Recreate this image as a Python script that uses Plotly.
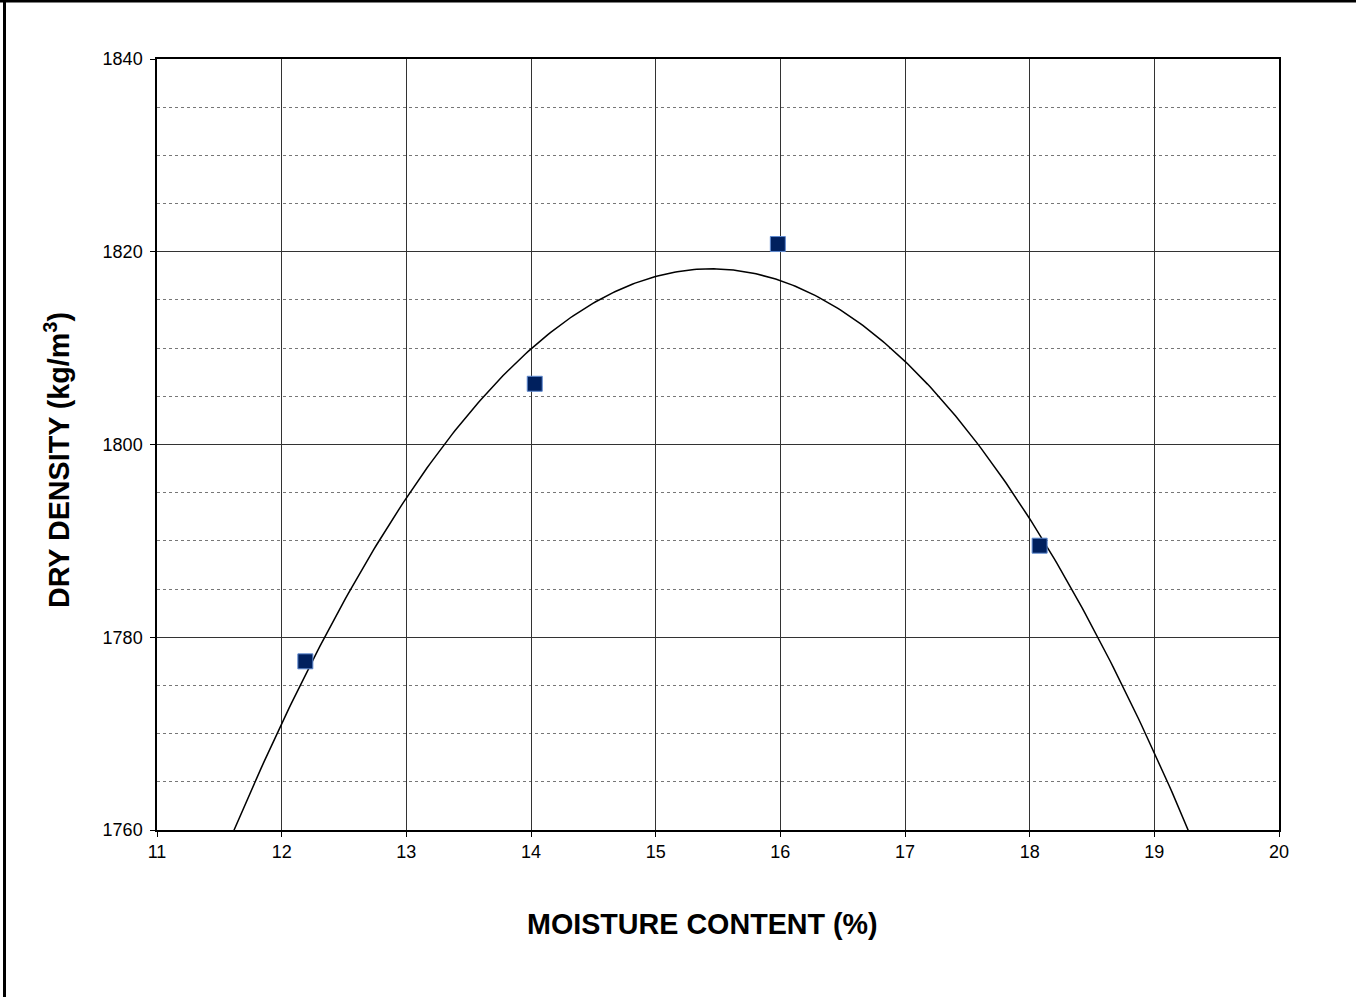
import numpy as np
import plotly.graph_objects as go

# Data
moisture = [12.19, 14.03, 15.98, 18.08]
density = [1777.5, 1806.3, 1820.8, 1789.5]

x_ticks = [11, 12, 13, 14, 15, 16, 17, 18, 19, 20]
y_ticks = [1760, 1780, 1800, 1820, 1840]

# Polynomial (order 2) trendline fitted to the measured points
coef = np.polyfit(moisture, density, 2)
xf = np.linspace(11, 20, 400)
yf = np.polyval(coef, xf)

FONT = "Liberation Sans, Arial, sans-serif"

fig = go.Figure()
fig.add_trace(go.Scatter(x=xf, y=yf, mode="lines",
                         line=dict(color="black", width=1.5),
                         hoverinfo="skip", showlegend=False))
fig.add_trace(go.Scatter(x=moisture, y=density, mode="markers",
                         marker=dict(symbol="square", size=15, color="#00205E",
                                     line=dict(color="#5F8AD0", width=1)),
                         showlegend=False))

fig.update_layout(
    width=1356, height=997,
    margin=dict(l=157, r=77, t=59, b=167),
    paper_bgcolor="white", plot_bgcolor="white",
    font=dict(family=FONT, size=18, color="black"),
    xaxis=dict(range=[11, 20], tickvals=x_ticks, ticktext=[str(v) for v in x_ticks],
               showgrid=True, gridcolor="#333333", gridwidth=1,
               showline=True, linecolor="black", linewidth=1.5, mirror=True,
               ticks="outside", ticklen=5, tickcolor="black", zeroline=False),
    yaxis=dict(range=[1760, 1840], tickvals=y_ticks, ticktext=[str(v) for v in y_ticks],
               showgrid=True, gridcolor="#333333", gridwidth=1,
               minor=dict(dtick=5, tick0=1760, showgrid=True, gridcolor="#777777",
                          griddash="dot", gridwidth=1, ticks=""),
               showline=True, linecolor="black", linewidth=1.5, mirror=True,
               ticks="outside", ticklen=5, tickcolor="black", zeroline=False,
               ticklabelstandoff=4),
    annotations=[
        dict(text="<b>MOISTURE CONTENT (%)</b>", xref="paper", yref="paper",
             x=(702.5 - 157) / (1279 - 157), y=-(924 - 830) / (830 - 59),
             xanchor="center", yanchor="middle", showarrow=False,
             font=dict(family=FONT, size=28.7, color="black")),
        dict(text="<b>DRY DENSITY (kg/m<sup>3</sup>)</b>", xref="paper", yref="paper",
             x=-(157 - 57) / (1279 - 157), y=(830 - 460) / (830 - 59),
             xanchor="center", yanchor="middle", textangle=-90, showarrow=False,
             font=dict(family=FONT, size=28.7, color="black")),
    ],
    shapes=[
        dict(type="line", xref="paper", yref="paper", x0=-157/1122, x1=(1356-157)/1122,
             y0=(830 - 1) / 771, y1=(830 - 1) / 771, line=dict(color="black", width=3)),
        dict(type="line", xref="paper", yref="paper", x0=-(157 - 4.5) / 1122, x1=-(157 - 4.5) / 1122,
             y0=830 / 771, y1=-(997 - 830) / 771, line=dict(color="black", width=3)),
    ],
)

fig.write_html("out.html")
